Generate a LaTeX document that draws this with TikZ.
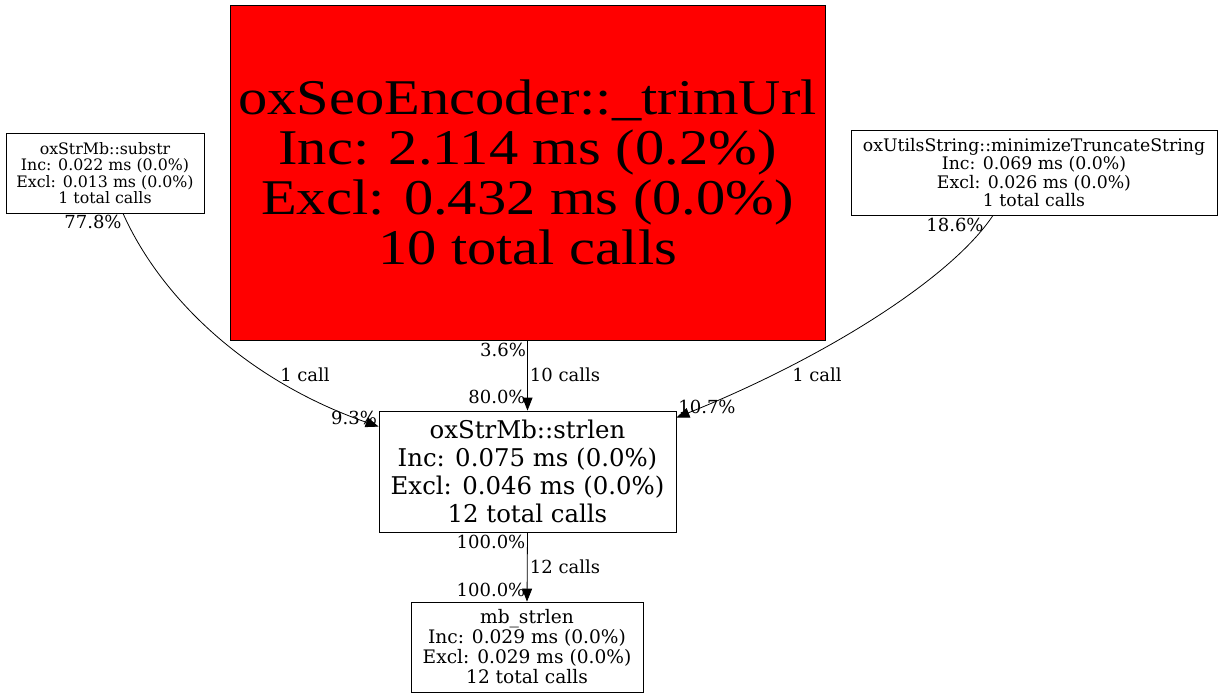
\documentclass[tikz,border=0pt]{standalone}
\usepackage{fontspec}
\setmainfont{DejaVu Serif}
\newfontfamily\bigserif[FakeStretch=1.17]{Liberation Serif}
\usetikzlibrary{arrows.meta}
\colorlet{hotred}{red}

\begin{document}
\begin{tikzpicture}[x=1pt,y=-1pt]
\useasboundingbox (0,0) rectangle (1223,699);
\tikzset{FuncStyle/.style ={draw, line width=0.8pt, inner sep=0, align=center},
  EdgeStyle/.style ={line width=0.8pt, -{Triangle[length=13pt,width=10pt]}},
  LabelStyle/.style ={inner sep=0, font=\fontsize{18}{20}\selectfont}}
% functions
\node[FuncStyle, fill=hotred, minimum width=595, minimum height=335,
  font=\bigserif\fontsize{50}{50}\selectfont] (trim) at (527.5,172.5)
  {oxSeoEncoder::\_trimUrl\\Inc: 2.114 ms (0.2\%)\\Excl: 0.432 ms (0.0\%)\\10 total calls};
\node[FuncStyle, minimum width=198, minimum height=80,
  font=\fontsize{15.8}{16.5}\selectfont] (substr) at (105,173)
  {oxStrMb::substr\\Inc: 0.022 ms (0.0\%)\\Excl: 0.013 ms (0.0\%)\\1 total calls};
\node[FuncStyle, minimum width=366, minimum height=85,
  font=\fontsize{17.3}{18.5}\selectfont] (minimize) at (1034,172.5)
  {oxUtilsString::minimizeTruncateString\\Inc: 0.069 ms (0.0\%)\\Excl: 0.026 ms (0.0\%)\\1 total calls};
\node[FuncStyle, minimum width=297, minimum height=121,
  font=\fontsize{24.4}{28}\selectfont] (strlen) at (527.5,471.5)
  {oxStrMb::strlen\\Inc: 0.075 ms (0.0\%)\\Excl: 0.046 ms (0.0\%)\\12 total calls};
\node[FuncStyle, minimum width=232, minimum height=90,
  font=\fontsize{18.6}{20}\selectfont] (mbstrlen) at (527,647)
  {mb\_strlen\\Inc: 0.029 ms (0.0\%)\\Excl: 0.029 ms (0.0\%)\\12 total calls};
% calls
\draw[EdgeStyle] ([xshift=18pt]substr.south) .. controls (158,292) and (240,378) .. ([yshift=-16pt]strlen.north west);
\draw[EdgeStyle] (trim.south) -- (strlen.north);
\draw[EdgeStyle] ([xshift=-41pt]minimize.south) .. controls (950,280) and (820,360) .. ([yshift=-7pt]strlen.north east);
\draw[EdgeStyle] (strlen.south) -- (mbstrlen.north);
% percentages
\node[LabelStyle] (p1) at (93,222) {77.8\%};
\node[LabelStyle] (p2) at (354,418) {9.3\%};
\node[LabelStyle] (c1) at (305,375) {1 call};
\node[LabelStyle] (p3) at (503,350) {3.6\%};
\node[LabelStyle] (c2) at (565,375) {10 calls};
\node[LabelStyle] (p4) at (497,397) {80.0\%};
\node[LabelStyle] (p5) at (955,225) {18.6\%};
\node[LabelStyle] (c3) at (817,375) {1 call};
\node[LabelStyle] (p6) at (707,407) {10.7\%};
\node[LabelStyle] (p7) at (491,542) {100.0\%};
\node[LabelStyle] (c4) at (565,567) {12 calls};
\node[LabelStyle] (p8) at (491,590) {100.0\%};
\end{tikzpicture}
\end{document}
